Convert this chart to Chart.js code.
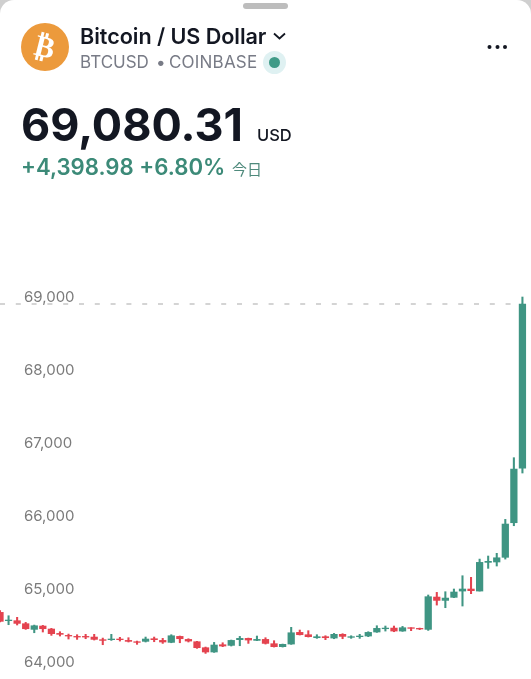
<!DOCTYPE html>
<html><head><meta charset="utf-8">
<script src="https://cdn.jsdelivr.net/npm/chart.js@4"></script>
<style>
html,body{margin:0;padding:0;width:531px;height:679px;overflow:hidden;background:#cfcfcf;}
#sheet{position:absolute;left:0;top:0;width:531px;height:679px;background:#fff;border-radius:14px 14px 0 0;overflow:hidden;font-family:Inter,"Noto Sans",sans-serif;}
#sheet canvas{position:absolute;left:0;top:0;}
.t{position:absolute;white-space:nowrap;line-height:1;}
</style></head><body>
<div id="sheet">
<canvas id="c" width="531" height="679"></canvas>
<div class="t" style="left:243px;top:3px;width:45px;height:6px;border-radius:3px;background:#bdbdbd"></div>
<div class="t" style="left:21px;top:23px;width:48px;height:48px;border-radius:50%;background:#ec9a3c"></div>
<div class="t" style="left:21px;top:23px;width:48px;height:48px;line-height:48px;text-align:center;color:#fff;font:700 30px/48px 'DejaVu Sans';transform:rotate(14deg)">₿</div>
<div class="t" style="left:80px;top:26px;font-size:21.6px;font-weight:600;color:#131722;letter-spacing:-.05px">Bitcoin / US Dollar</div>
<svg class="t" style="left:272px;top:31px" width="15" height="10"><path d="M2 2.5 L7.5 7.5 L13 2.5" fill="none" stroke="#131722" stroke-width="1.8"/></svg>
<div class="t" style="left:80px;top:54px;font-size:17px;color:#787b86">BTCUSD</div>
<div class="t" style="left:156px;top:54px;font-size:17px;color:#787b86">•</div>
<div class="t" style="left:169px;top:54px;font-size:17px;color:#787b86;letter-spacing:.2px">COINBASE</div>
<div class="t" style="left:263px;top:51px;width:23px;height:23px;border-radius:50%;background:#dff1f2"></div>
<div class="t" style="left:269px;top:57px;width:11px;height:11px;border-radius:50%;background:#3f9a87"></div>
<svg class="t" style="left:485px;top:42px" width="24" height="10"><circle cx="4.5" cy="5" r="2" fill="#131722"/><circle cx="12.5" cy="5" r="2" fill="#131722"/><circle cx="20" cy="5" r="2" fill="#131722"/></svg>
<div class="t" style="left:21px;top:102px;font-size:45px;font-weight:700;color:#131722">69,080.31</div>
<div class="t" style="left:257px;top:127px;font-size:16.5px;font-weight:500;color:#131722">USD</div>
<div class="t" style="left:21px;top:156px;font-size:22.2px;font-weight:600;color:#3c8a78">+4,398.98 +6.80%</div>
<div class="t" style="left:232px;top:161px;font-size:15px;color:#4f8a7c;font-family:'Noto Sans CJK JP'">今日</div>
</div>
<script>
const opens =[64856,64742,64742,64701,64623,64669,64628,64568,64541,64527,64527,64518,64482,64482,64491,64472,64454,64459,64495,64472,64445,64527,64486,64454,64372,64313,64413,64404,64482,64500,64472,64486,64427,64386,64422,64582,64550,64509,64523,64504,64555,64514,64523,64532,64587,64632,64641,64600,64646,64637,64623,65066,65020,65062,65148,65176,65148,65541,65546,65610,66084,66833];
const closes=[64733,64751,64705,64632,64673,64632,64564,64555,64532,64518,64518,64486,64472,64491,64482,64459,64445,64491,64482,64450,64536,64495,64463,64372,64313,64409,64395,64472,64500,64477,64486,64431,64386,64418,64577,64550,64523,64523,64509,64555,64527,64523,64532,64582,64637,64641,64600,64646,64637,64628,65071,65020,65052,65135,65176,65153,65541,65555,65604,66066,66819,69080.31];
const highs =[64879,64810,64788,64719,64682,64678,64637,64591,64559,64550,64555,64555,64504,64555,64514,64509,64463,64518,64518,64500,64550,64532,64495,64459,64381,64445,64440,64477,64527,64504,64532,64509,64468,64422,64651,64614,64605,64550,64536,64568,64564,64536,64555,64591,64673,64669,64669,64664,64646,64641,65094,65130,65139,65176,65358,65336,65586,65628,65665,66130,66975,69176];
const lows  =[64724,64687,64683,64623,64577,64587,64541,64532,64491,64486,64495,64477,64413,64472,64463,64450,64418,64450,64454,64431,64440,64440,64450,64363,64294,64308,64386,64395,64399,64431,64468,64422,64381,64381,64418,64546,64518,64500,64482,64495,64495,64500,64500,64523,64582,64600,64591,64596,64605,64619,64609,64956,64920,65057,64943,65112,65148,65459,65491,65586,66043,66765];
const tickValues=[64000,65000,66000,67000,68000,69000];
const lastPrice=69080.31;
const categories=opens.map((_,i)=>String(i+1)).concat(['']);
const UP='#3f9583', DOWN='#e4434f';
const colors=opens.map((o,i)=>closes[i]>=o?UP:DOWN);
new Chart(document.getElementById('c'),{
  data:{labels:categories,datasets:[
    {type:'bar',order:1,data:opens.map((o,i)=>[o,closes[i]]),backgroundColor:colors,barThickness:6.6,grouped:false},
    {type:'bar',order:2,data:lows.map((l,i)=>[l,highs[i]]),backgroundColor:colors,barThickness:1.4,grouped:false},
    {type:'line',order:3,data:opens.map(()=>lastPrice),borderColor:'#aaaaaa',borderWidth:1.2,borderDash:[5,10.8],pointRadius:0,fill:false}
  ]},
  options:{
    responsive:false,animation:false,devicePixelRatio:1,
    layout:{padding:0},
    plugins:{legend:{display:false},tooltip:{enabled:false}},
    scales:{
      x:{type:'category',display:false,offset:false,grid:{display:false}},
      y:{position:'left',min:63943.32,max:73244.69,
        grid:{display:false},border:{display:false},
        afterBuildTicks(s){s.ticks=tickValues.map(v=>({value:v}));},
        afterFit(s){s.width=0;s.paddingLeft=s.paddingRight=s.paddingTop=s.paddingBottom=0;},
        ticks:{mirror:true,padding:24,labelOffset:-12.5,autoSkip:false,color:'#7b7b7b',
          font:{family:'Inter',size:15},callback:v=>v.toLocaleString('en-US')}}
    }
  }
});
</script>
</body></html>
